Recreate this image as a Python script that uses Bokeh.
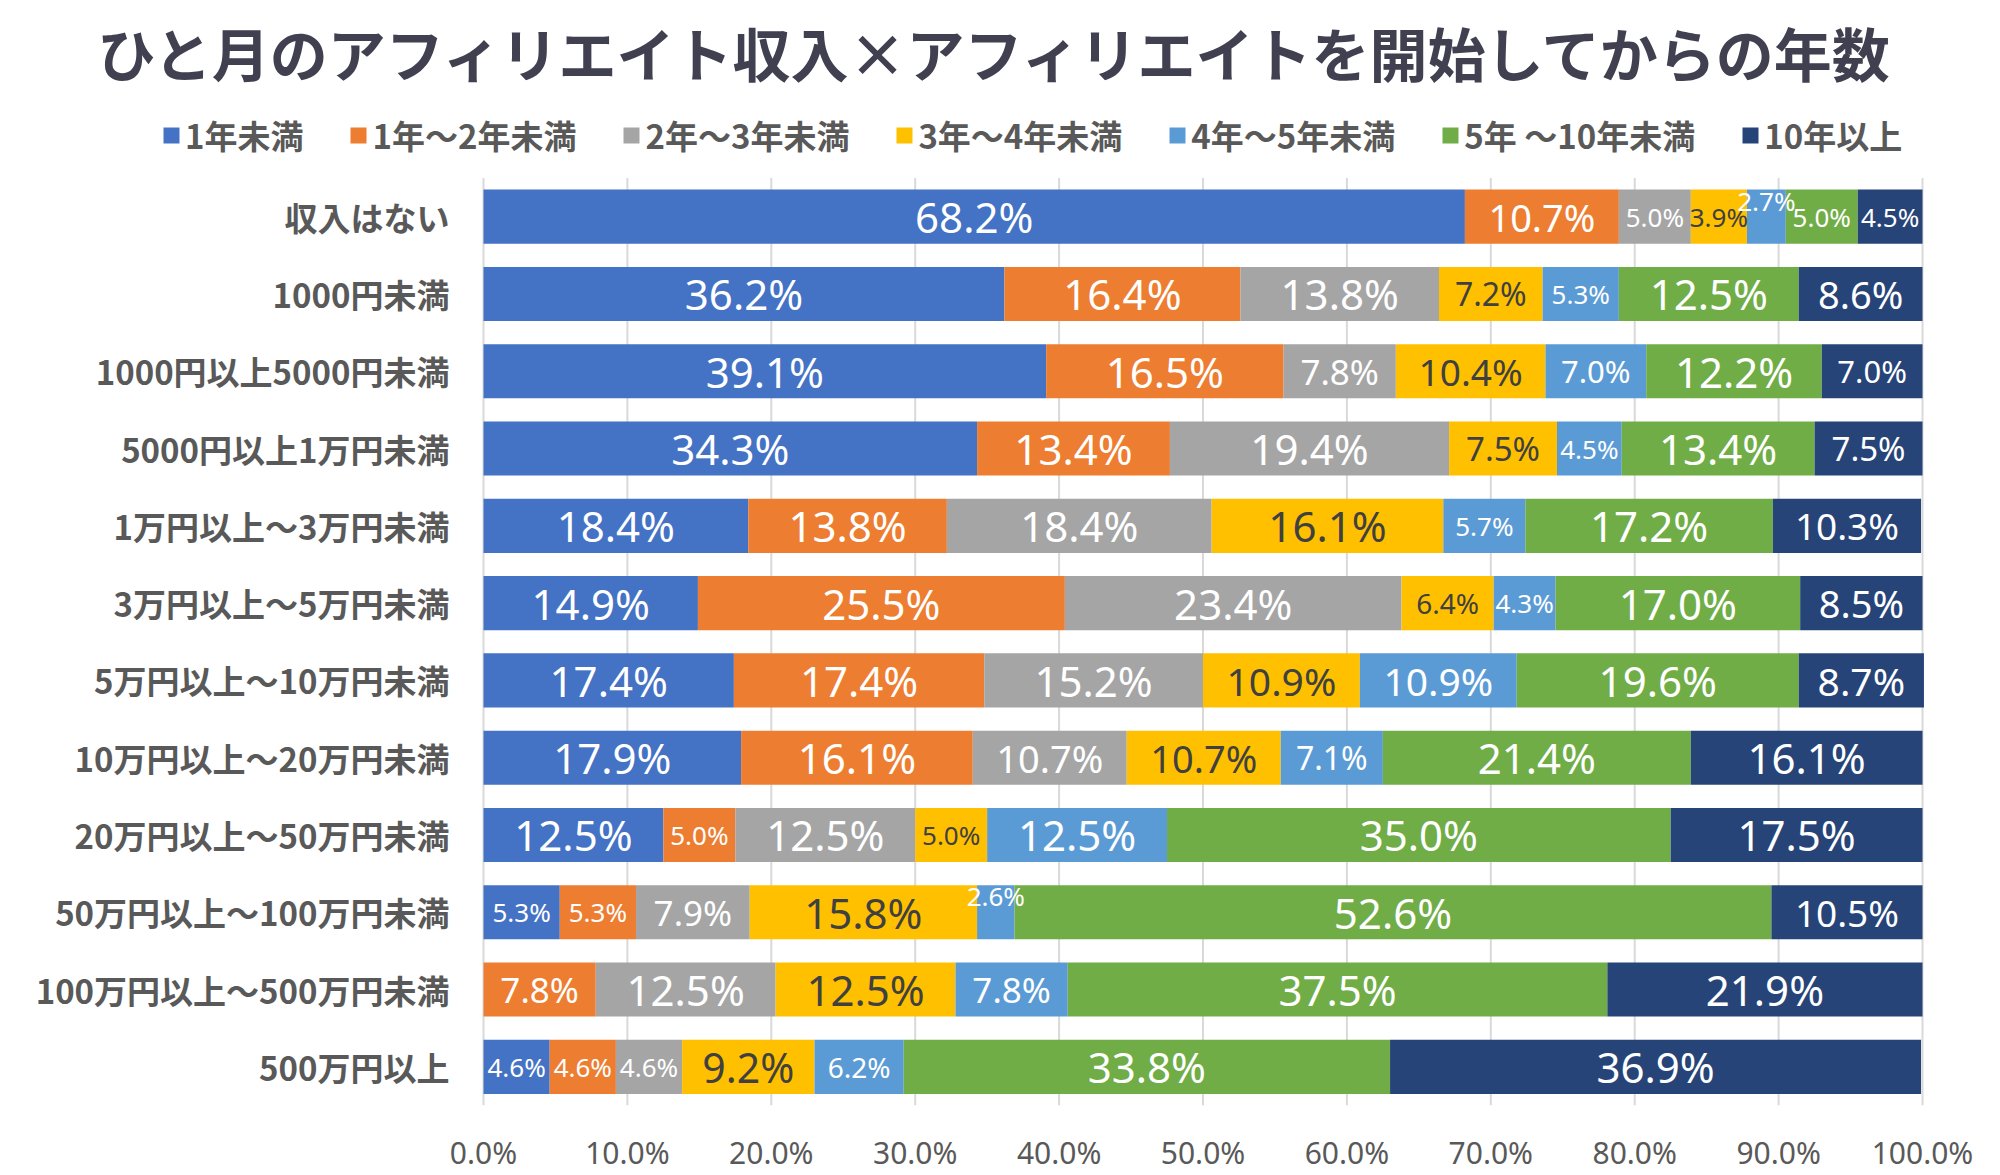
from bokeh.plotting import figure
from bokeh.models import (ColumnDataSource, Range1d, FixedTicker,
                          NumeralTickFormatter, Legend, LegendItem, Label)
from bokeh.core.properties import value
from bokeh.embed import file_html
from bokeh.resources import INLINE

# Monthly affiliate income bands (top to bottom)
categories = [
    "収入はない",
    "1000円未満",
    "1000円以上5000円未満",
    "5000円以上1万円未満",
    "1万円以上～3万円未満",
    "3万円以上～5万円未満",
    "5万円以上～10万円未満",
    "10万円以上～20万円未満",
    "20万円以上～50万円未満",
    "50万円以上～100万円未満",
    "100万円以上～500万円未満",
    "500万円以上",
]

# Years since starting affiliate work (stack order, left to right)
series_names = ["1年未満", "1年～2年未満", "2年～3年未満", "3年～4年未満",
                "4年～5年未満", "5年 ～10年未満", "10年以上"]
colors = ["#4472C4", "#ED7D31", "#A5A5A5", "#FFC000", "#5B9BD5", "#70AD47", "#264478"]
label_colors = ["white", "white", "white", "#404040", "white", "white", "white"]

# Share (%) of each income band per tenure group
under_1y  = [68.2, 36.2, 39.1, 34.3, 18.4, 14.9, 17.4, 17.9, 12.5, 5.3, 0.0, 4.6]
y1_to_2   = [10.7, 16.4, 16.5, 13.4, 13.8, 25.5, 17.4, 16.1, 5.0, 5.3, 7.8, 4.6]
y2_to_3   = [5.0, 13.8, 7.8, 19.4, 18.4, 23.4, 15.2, 10.7, 12.5, 7.9, 12.5, 4.6]
y3_to_4   = [3.9, 7.2, 10.4, 7.5, 16.1, 6.4, 10.9, 10.7, 5.0, 15.8, 12.5, 9.2]
y4_to_5   = [2.7, 5.3, 7.0, 4.5, 5.7, 4.3, 10.9, 7.1, 12.5, 2.6, 7.8, 6.2]
y5_to_10  = [5.0, 12.5, 12.2, 13.4, 17.2, 17.0, 19.6, 21.4, 35.0, 52.6, 37.5, 33.8]
over_10y  = [4.5, 8.6, 7.0, 7.5, 10.3, 8.5, 8.7, 16.1, 17.5, 10.5, 21.9, 36.9]

series_values = [under_1y, y1_to_2, y2_to_3, y3_to_4, y4_to_5, y5_to_10, over_10y]

x_ticks = [i / 10 for i in range(11)]

TITLE = "ひと月のアフィリエイト収入×アフィリエイトを開始してからの年数"

# ---- page geometry (pixels) ----
W, H = 2000, 1175
BOTTOM = 67                       # room for the percentage tick labels
PLOT_L, PLOT_R = 483, 1922        # 0% and 100% positions
BARS_TOP = 178                    # top of the bar area
frame_h = H - BOTTOM
n = len(categories)
pitch = (frame_h - BARS_TOP) / n  # row pitch in pixels

# data <-> pixel mapping for a frame spanning the full page width
x_per_px = 1 / (PLOT_R - PLOT_L)
x_start = -PLOT_L * x_per_px
x_end = 1 + (W - PLOT_R) * x_per_px
y_bottom = n - 0.5
y_top = -0.5 - BARS_TOP / pitch


def y_at_px(py):
    """Row coordinate for a pixel height measured from the page top."""
    return y_top + py / pitch


p = figure(width=W, height=H, output_backend="svg", toolbar_location=None,
           x_range=Range1d(x_start, x_end), y_range=Range1d(y_bottom, y_top),
           min_border_left=0, min_border_right=0, min_border_top=0,
           min_border_bottom=BOTTOM, y_axis_type=None)
p.outline_line_color = None
p.grid.visible = False

rows = list(range(n))

# vertical gridlines over the bar area
p.segment(x0=x_ticks, x1=x_ticks, y0=[y_bottom] * len(x_ticks),
          y1=[-0.5] * len(x_ticks), line_color="#D9D9D9", line_width=2)

keys = [f"s{i}" for i in range(len(series_names))]
data = {"row": rows}
for k, vals in zip(keys, series_values):
    data[k] = [v / 100 for v in vals]
src = ColumnDataSource(data)
renderers = p.hbar_stack(keys, y="row", height=0.7, color=colors, line_color=None,
                         source=src)

# ---- category labels (left of the bars) ----
p.text(x=[0] * n, y=rows, text=categories, x_offset=-34, text_align="right",
       text_baseline="middle", text_font_size="33px",
       text_font=value("Noto Sans CJK JP"), text_font_style="bold",
       text_color="#595959")

# ---- segment value labels ----
frame_px = PLOT_R - PLOT_L
char_em = {"%": 0.85, ".": 0.27}


def text_em(s):
    return sum(char_em.get(c, 0.572) for c in s)


lx, ly, lt, lsize, lcol, loff = [], [], [], [], [], []
for ci in rows:
    left = 0.0
    for si, vals in enumerate(series_values):
        v = vals[ci]
        if v > 0:
            txt = f"{v:.1f}%"
            seg_px = v / 100 * frame_px
            size = max(26, min(42, 0.70 * seg_px / text_em(txt)))
            lx.append((left + v / 2) / 100)
            ly.append(ci)
            lt.append(txt)
            lsize.append(f"{size:.0f}px")
            lcol.append(label_colors[si])
            loff.append(-16 if v < 3 else 0)
        left += v

lab_src = ColumnDataSource(dict(x=lx, y=ly, text=lt, size=lsize, color=lcol, yoff=loff))
p.text(x="x", y="y", text="text", source=lab_src, text_font_size="size",
       text_color="color", y_offset="yoff", text_align="center",
       text_baseline="middle", text_font=value("Noto Sans"))

# ---- percentage axis ----
p.xaxis.ticker = FixedTicker(ticks=x_ticks)
p.xaxis.formatter = NumeralTickFormatter(format="0.0%")
p.xaxis.axis_line_color = None
p.xaxis.major_tick_line_color = None
p.xaxis.minor_tick_line_color = None
p.xaxis.major_label_text_font_size = "30px"
p.xaxis.major_label_text_font = "Noto Sans"
p.xaxis.major_label_text_color = "#595959"
p.xaxis.major_label_standoff = 20

# ---- title ----
p.add_layout(Label(x=(996 - PLOT_L) * x_per_px, y=y_at_px(52), text=TITLE,
                   text_align="center", text_baseline="middle",
                   text_font_size="58px", text_font="Noto Sans CJK JP",
                   text_font_style="bold", text_color="#404050"))

# ---- legend ----
legend = Legend(items=[LegendItem(label=nm, renderers=[r])
                       for nm, r in zip(series_names, renderers)],
                orientation="horizontal", location=(161, frame_h - 162),
                label_text_font_size="33px", label_text_font="Noto Sans CJK JP",
                label_text_font_style="bold", label_text_color="#595959",
                glyph_width=20, glyph_height=20, label_standoff=4, spacing=45,
                border_line_color=None, background_fill_alpha=0,
                padding=0, margin=0)
p.add_layout(legend, "center")

open("out.html", "w").write(file_html(p, INLINE))
